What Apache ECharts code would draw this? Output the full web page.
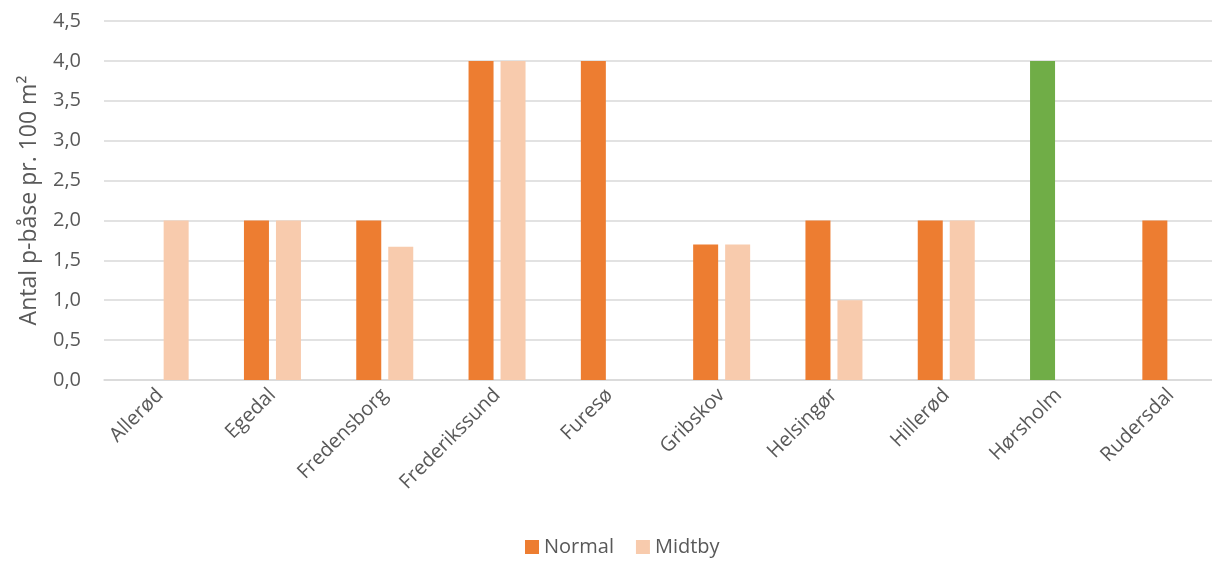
<!DOCTYPE html>
<html><head><meta charset="utf-8">
<script src="https://cdn.jsdelivr.net/npm/echarts@6/dist/echarts.min.js"></script>
<style>html,body{margin:0;padding:0;background:#fff;overflow:hidden}#c{width:1230px;height:564px}</style>
</head><body><div id="c"></div>
<script>
const categories = ['Allerød','Egedal','Fredensborg','Frederikssund','Furesø','Gribskov','Helsingør','Hillerød','Hørsholm','Rudersdal'];
const normalValues = [null, 2, 2, 4, 4, 1.7, 2, 2, 4, 2];
const midtbyValues = [2, 2, 1.67, 4, null, 1.7, 1, 2, null, null];
const highlightCategory = 'Hørsholm';
const yTicks = [0, 0.5, 1, 1.5, 2, 2.5, 3, 3.5, 4, 4.5];

const chart = echarts.init(document.getElementById('c'));
const font = '"Open Sans", "Noto Sans", sans-serif';
chart.setOption({
  animation: false,
  textStyle: {fontFamily: font},
  grid: {left: 104, top: 21, width: 1123, height: 359},
  legend: {
    bottom: 2, left: 520, itemWidth: 14, itemHeight: 14, itemGap: 22,
    icon: 'rect',
    textStyle: {fontSize: 20, color: '#595959', fontFamily: font},
    data: ['Normal', 'Midtby']
  },
  xAxis: {
    type: 'category', data: categories,
    axisLine: {lineStyle: {color: '#d9d9d9', width: 1.5}},
    axisTick: {show: false},
    axisLabel: {rotate: 45, fontSize: 20, color: '#595959', margin: 12, fontFamily: font}
  },
  yAxis: {
    type: 'value', min: 0, max: 4.5, interval: 0.5,
    name: 'Antal p-båse pr. 100 m²', nameLocation: 'middle', nameGap: 63,
    nameTextStyle: {fontSize: 23, color: '#595959', fontFamily: font},
    axisLine: {show: false}, axisTick: {show: false},
    splitLine: {lineStyle: {color: '#d9d9d9', width: 1.5}},
    axisLabel: {fontSize: 20, color: '#595959', margin: 23, fontFamily: font,
      formatter: v => yTicks.includes(v) ? v.toFixed(1).replace('.', ',') : ''}
  },
  series: [
    {name: 'Normal', type: 'bar', barWidth: 25, barGap: '28%',
     itemStyle: {color: '#ED7D31'},
     data: normalValues.map((v, i) => categories[i] === highlightCategory ? {value: v, itemStyle: {color: '#70AD47'}} : v)},
    {name: 'Midtby', type: 'bar', barWidth: 25, barGap: '28%',
     itemStyle: {color: '#F8CBAD'}, data: midtbyValues}
  ]
});
</script></body></html>
